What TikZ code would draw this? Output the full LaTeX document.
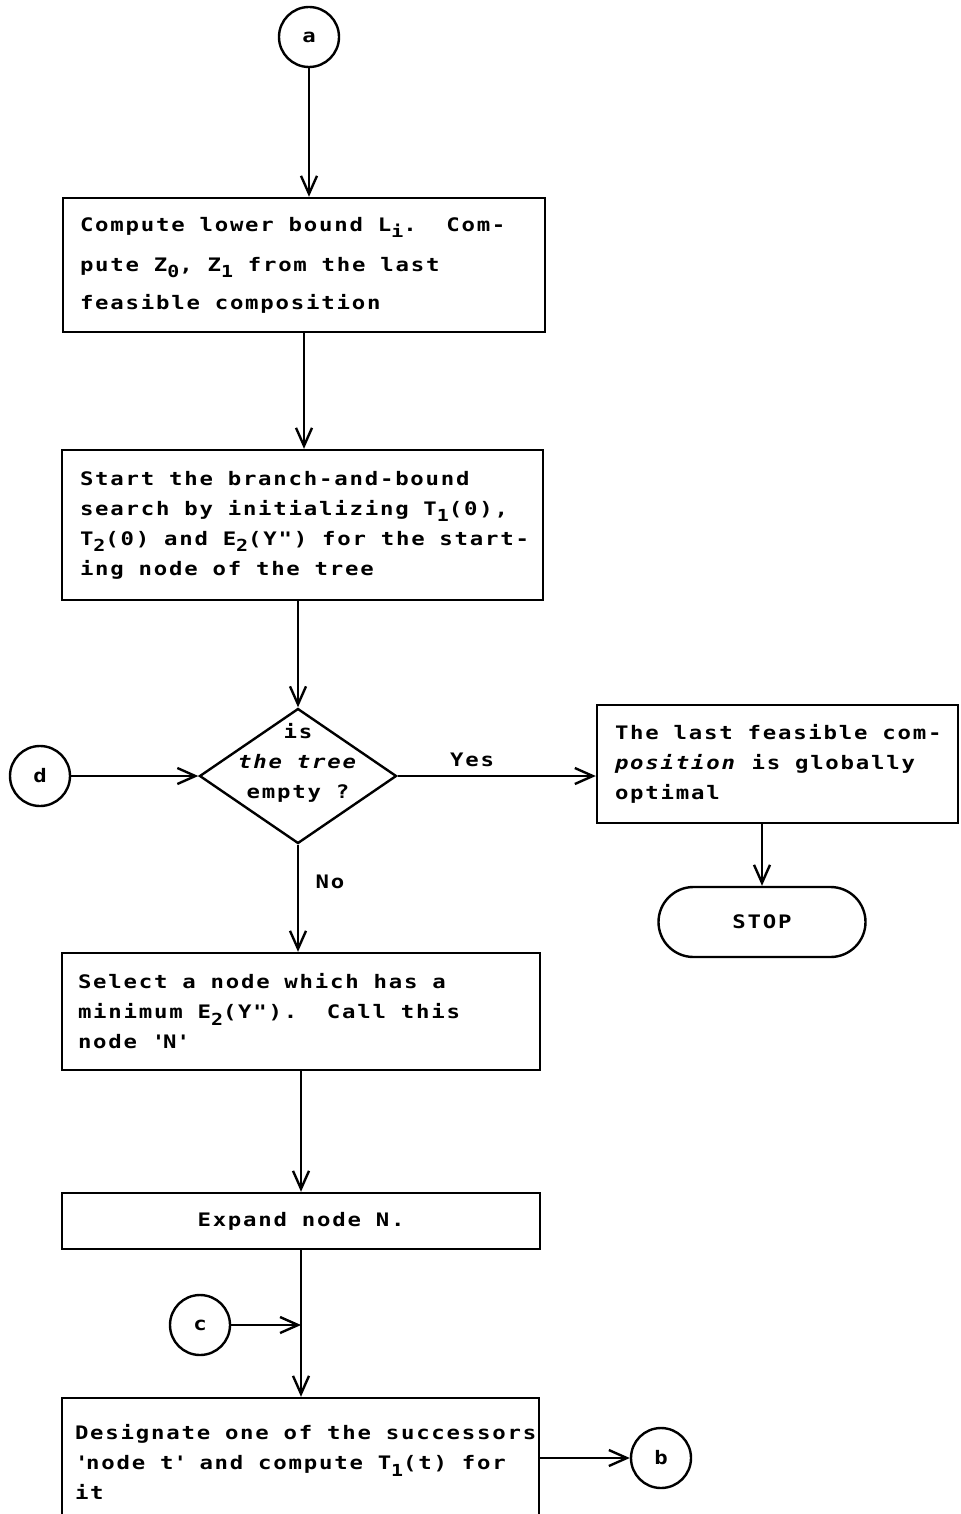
\documentclass[tikz,border=0pt]{standalone}
\usepackage{fontspec}
\usetikzlibrary{arrows.meta,shapes.geometric}
\newfontfamily\tw[FakeStretch=1.2,LetterSpace=9.6]{DejaVu Sans Mono}
\newcommand\twfont{\tw\bfseries\fontsize{9.3}{15}\selectfont}
% one typewriter character cell of blank space
\newcommand\ws{\hspace*{7.4pt}}
% lowered index, typewriter style
\newcommand\lo[1]{\raisebox{-3.4pt}{\fontsize{8.3}{10}\selectfont #1}}
\begin{document}
\begin{tikzpicture}[x=0.5pt,y=-0.5pt,
  every node/.style={font=\twfont},
  box/.style={draw, line width=1.2pt, rectangle, inner ysep=0pt, align=left},
  conn/.style={draw, line width=1.2pt, circle, minimum size=30pt, inner sep=0pt},
  arr/.style={line width=1.2pt, -{Straight Barb[length=9pt,width=8pt]}}]
\useasboundingbox (0,0) rectangle (960,1514);
\fill[white] (0,0) rectangle (960,1514);
\clip (0,0) rectangle (960,1514);

% connectors
\node[conn] (a) at (309,37) {a};
\node[conn] (d) at (40,776) {d};
\node[conn] (c) at (200,1325) {c};
\node[conn] (b) at (661,1458) {b};

% process boxes
\node[box, inner xsep=8.5pt, text width=224pt, minimum height=67pt] (b1) at (304,265)
  {\mbox{Compute\ws lower\ws bound\ws L\lo{i}.\ws\ws Com-}\\[5pt]
   \mbox{pute\ws Z\lo{0},\ws Z\lo{1}\ws from\ws the\ws last}\\[4pt]
   \mbox{feasible\ws composition}};
\node[box, inner xsep=9pt, text width=222.5pt, minimum height=75pt] (b2) at (302.5,525)
  {\mbox{Start\ws the\ws branch-and-bound}\\
   \mbox{search\ws by\ws initializing\ws T\lo{1}(0),}\\
   \mbox{T\lo{2}(0)\ws and\ws E\lo{2}(Y")\ws for\ws the\ws start-}\\
   \mbox{ing\ws node\ws of\ws the\ws tree}};
\node[draw, line width=1.2pt, diamond, minimum width=98.5pt, minimum height=67.5pt, inner sep=0pt] (q) at (298,776) {};
\node[align=center] (qt) at (298,763) {is\\ \textit{the\ws tree}\\ empty\ws ?};
\node[box, inner xsep=9pt, text width=162.5pt, minimum height=59pt] (b3) at (777.5,764)
  {\mbox{The\ws last\ws feasible\ws com-}\\
   \mbox{\textit{position}\ws is\ws globally}\\
   \mbox{optimal}};
\node[draw, line width=1.2pt, rectangle, rounded corners=17.5pt, minimum width=103.5pt, minimum height=35pt] (stop) at (762,922) {STOP};
\node[box, inner xsep=8pt, text width=223pt, minimum height=58.5pt] (b4) at (301,1011.5)
  {\mbox{Select\ws a\ws node\ws which\ws has\ws a}\\
   \mbox{minimum\ws E\lo{2}(Y").\ws\ws Call\ws this}\\
   \mbox{node\ws\textquotesingle N\textquotesingle}};
\node[box, align=center, inner xsep=8pt, text width=223pt, minimum height=28pt] (b5) at (301,1221)
  {Expand\ws node\ws N.};
\node[box, inner xsep=6.5pt, text width=225.5pt, minimum height=64pt] (b6) at (300.5,1462)
  {\mbox{Designate\ws one\ws of\ws the\ws successors}\\
   \mbox{\textquotesingle node\ws t\textquotesingle\ws and\ws compute\ws T\lo{1}(t)\ws for}\\
   \mbox{it}};

% labels
\node (yes) at (472,760) {Yes};
\node (no) at (330,882) {No};

% flow lines
\draw[arr] (a) -- (a |- b1.north);
\draw[arr] (b1.south) -- (b1.south |- b2.north);
\draw[arr] (q.north |- b2.south) -- (q.north);
\draw[arr] (d) -- (q.west);
\draw[arr] (q.east) -- (q.east -| b3.west);
\draw[arr] (b3.south -| stop.north) -- (stop.north);
\draw[arr] (q.south) -- (q.south |- b4.north);
\draw[arr] (b4.south) -- (b4.south |- b5.north);
\draw[arr] (b5.south) -- (b5.south |- b6.north);
\draw[arr] (c) -- (c -| b5.south);
\draw[arr] (b6.east |- b) -- (b);
\end{tikzpicture}
\end{document}
